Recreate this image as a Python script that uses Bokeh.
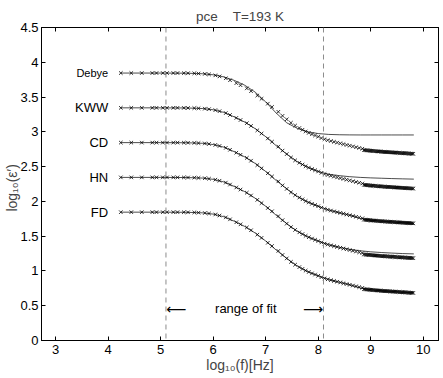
from bokeh.plotting import figure
from bokeh.models import LinearAxis, Span, FixedTicker, Title
from bokeh.core.properties import value
from bokeh.embed import file_html
from bokeh.resources import INLINE

# ---------------- data ----------------
models = ["Debye", "KWW", "CD", "HN", "FD"]
offsets = [2.0, 1.5, 1.0, 0.5, 0.0]

# low-frequency measured points (base curve, FD level)
lf_x = [4.24, 4.44, 4.64, 4.84, 4.92, 5.04, 5.12, 5.24, 5.32, 5.44, 5.52, 5.64, 5.72,
        5.84, 5.92, 6.04, 6.12, 6.24, 6.32, 6.44, 6.52, 6.64, 6.72, 6.84, 6.92, 7.04,
        7.12, 7.24, 7.32, 7.40, 7.48, 7.56, 7.64, 7.70, 7.76, 7.82, 7.88, 7.94, 8.00,
        8.06, 8.12, 8.18, 8.24, 8.30, 8.36, 8.42, 8.48, 8.54, 8.60, 8.66, 8.72, 8.78, 8.84]
lf_y = [1.845, 1.845, 1.845, 1.845, 1.845, 1.845, 1.845, 1.845, 1.845, 1.844, 1.843, 1.841, 1.838,
        1.833, 1.826, 1.812, 1.797, 1.770, 1.742, 1.700, 1.670, 1.625, 1.585, 1.522, 1.475, 1.405,
        1.358, 1.288, 1.230, 1.180, 1.130, 1.090, 1.055, 1.030, 1.005, 0.985, 0.965, 0.948, 0.930,
        0.910, 0.893, 0.880, 0.868, 0.856, 0.845, 0.834, 0.823, 0.812, 0.801, 0.790, 0.779, 0.768, 0.757]

# high-frequency measured points (base curve)
hf_x = [8.87, 8.89, 8.91, 8.93, 8.95, 8.97, 8.99, 9.01, 9.03, 9.05, 9.07, 9.09, 9.11, 9.13,
        9.15, 9.17, 9.19, 9.21, 9.23, 9.25, 9.27, 9.29, 9.31, 9.33, 9.35, 9.37, 9.39, 9.41,
        9.43, 9.45, 9.47, 9.49, 9.51, 9.53, 9.55, 9.57, 9.59, 9.61, 9.63, 9.65, 9.67, 9.69,
        9.71, 9.73, 9.75, 9.77, 9.79, 9.81]
hf_y = [0.738, 0.736, 0.735, 0.733, 0.732, 0.730, 0.729, 0.727, 0.726, 0.725, 0.723, 0.722, 0.721, 0.719,
        0.718, 0.717, 0.716, 0.714, 0.713, 0.712, 0.711, 0.710, 0.709, 0.708, 0.707, 0.706, 0.705, 0.704,
        0.703, 0.702, 0.701, 0.700, 0.699, 0.698, 0.697, 0.696, 0.695, 0.694, 0.693, 0.692, 0.691, 0.690,
        0.689, 0.688, 0.687, 0.686, 0.685, 0.684]

# fitted model curves
fit_x = [4.24, 5.0, 5.5, 5.8, 6.0, 6.2, 6.4, 6.6, 6.8, 7.0, 7.2, 7.4, 7.6, 7.8, 8.0, 8.2,
         8.4, 8.6, 8.8, 9.0, 9.2, 9.4, 9.6, 9.82]
fit_debye = [3.845, 3.845, 3.843, 3.835, 3.82, 3.79, 3.74, 3.67, 3.57, 3.43, 3.27, 3.13,
             3.05, 3.00, 2.975, 2.963, 2.958, 2.956, 2.955, 2.955, 2.955, 2.955, 2.955, 2.955]
fit_kww = [3.345, 3.345, 3.343, 3.335, 3.317, 3.28, 3.215, 3.14, 3.045, 2.93, 2.80, 2.68,
           2.57, 2.49, 2.43, 2.39, 2.37, 2.355, 2.345, 2.338, 2.333, 2.328, 2.324, 2.32]
fit_cd = [2.845, 2.845, 2.843, 2.835, 2.817, 2.78, 2.715, 2.64, 2.545, 2.43, 2.30, 2.18,
          2.07, 1.99, 1.93, 1.876, 1.838, 1.801, 1.755, 1.73, 1.716, 1.705, 1.695, 1.686]
fit_hn = [2.345, 2.345, 2.343, 2.335, 2.317, 2.28, 2.215, 2.14, 2.045, 1.93, 1.80, 1.68,
          1.57, 1.49, 1.43, 1.376, 1.34, 1.31, 1.29, 1.275, 1.265, 1.257, 1.25, 1.245]
fit_fd = [1.845, 1.845, 1.843, 1.835, 1.817, 1.78, 1.715, 1.64, 1.545, 1.43, 1.30, 1.18,
          1.07, 0.99, 0.93, 0.876, 0.838, 0.801, 0.755, 0.73, 0.716, 0.705, 0.695, 0.686]
fits = [fit_debye, fit_kww, fit_cd, fit_hn, fit_fd]

label_x = 4.0
label_y = [3.845, 3.345, 2.845, 2.345, 1.845]
label_sizes = ["11px", "13px", "13px", "13px", "13px"]

fit_range = [5.1, 8.1]
note_x = [5.3, 6.62, 7.9]
note_y = 0.46
note_text = ["\u27f5", "range of fit", "\u27f6"]

x_ticks = [3, 4, 5, 6, 7, 8, 9, 10]
y_ticks = [0, 0.5, 1, 1.5, 2, 2.5, 3, 3.5, 4, 4.5]

FONT = "Liberation Sans"
NB = "\u00a0"

# ---------------- figure ----------------
p = figure(width=443, height=378, x_range=(2.73, 10.29), y_range=(0, 4.5),
           output_backend="svg", toolbar_location=None,
           min_border_left=41, min_border_right=5, min_border_top=27, min_border_bottom=38)
p.background_fill_color = "white"
p.border_fill_color = "white"
p.outline_line_color = "black"
p.outline_line_width = 1
p.xgrid.visible = False
p.ygrid.visible = False

p.title = Title(text="pce" + NB * 4 + "T=193 K", align="center", offset=-4,
                text_font=FONT, text_font_size="13.5px", text_font_style="normal",
                standoff=8)

for ax, ticks in ((p.xaxis[0], x_ticks), (p.yaxis[0], y_ticks)):
    ax.ticker = FixedTicker(ticks=ticks)
    ax.major_tick_in = 4
    ax.major_tick_out = 0
    ax.minor_tick_line_color = None
    ax.major_label_text_font = FONT
    ax.major_label_text_font_size = "13px"
    ax.major_label_text_color = "black"
    ax.axis_label_text_font = FONT
    ax.axis_label_text_font_size = "14px"
    ax.axis_label_text_font_style = "normal"
    ax.axis_line_color = "black"
    ax.major_tick_line_color = "black"

p.xaxis[0].axis_label = "log\u2081\u2080(f)[Hz]"
p.xaxis[0].major_label_standoff = 4
p.xaxis[0].axis_label_standoff = 0
p.yaxis[0].axis_label = "log\u2081\u2080(\u03b5\u2032)" + NB * 2
p.yaxis[0].major_label_standoff = 3
p.yaxis[0].axis_label_standoff = -3

for loc, ticks in (("above", x_ticks), ("right", y_ticks)):
    ax = LinearAxis(ticker=FixedTicker(ticks=ticks), major_tick_in=4, major_tick_out=0,
                    minor_tick_line_color=None, major_label_text_color=None,
                    major_label_text_font_size="1px",
                    major_label_standoff=0, axis_line_color="black")
    p.add_layout(ax, loc)

# range of fit markers
for xr in fit_range:
    p.add_layout(Span(location=xr, dimension="height", line_color="#8c8c8c",
                      line_dash="5 4", line_width=1))

# data + fits
for name, off, fy in zip(models, offsets, fits):
    p.line(fit_x, fy, line_color="black", line_width=0.7)
    p.scatter(lf_x, [y + off for y in lf_y], marker="x", size=5,
              line_color="black", line_width=0.8)
    p.scatter(hf_x, [y + off for y in hf_y], marker="x", size=5,
              line_color="black", line_width=0.8)

for name, ly, fs in zip(models, label_y, label_sizes):
    p.text(x=[label_x], y=[ly], text=[name], text_align="right", text_baseline="middle",
           text_font=value(FONT), text_font_size=fs, text_color="black")

# range-of-fit annotation
p.text(x=note_x[1:2], y=[note_y], text=note_text[1:2],
       text_align="center", text_baseline="middle", text_font=value(FONT),
       text_font_size="13px", text_color="black")
p.text(x=[note_x[0], note_x[2]], y=[note_y, note_y], text=[note_text[0], note_text[2]],
       text_align="center", text_baseline="middle", text_font=value("DejaVu Sans"),
       text_font_size="14px", text_color="black")

open("out.html", "w").write(file_html(p, INLINE))
